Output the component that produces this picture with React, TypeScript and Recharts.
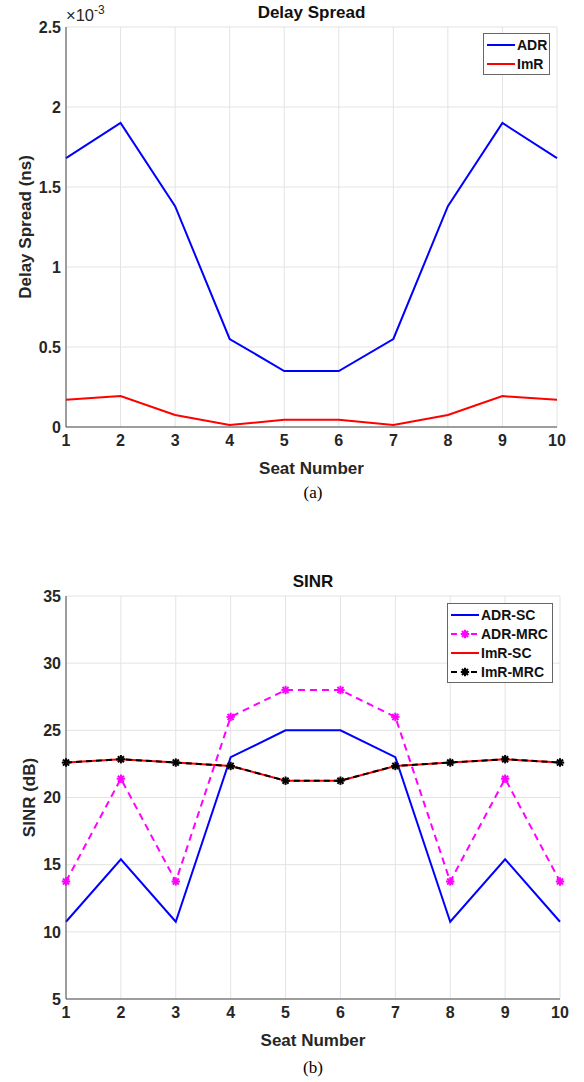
import { CartesianGrid, Line, LineChart, XAxis, YAxis } from 'recharts';

const seats = [1, 2, 3, 4, 5, 6, 7, 8, 9, 10];

// delay spread in ns
const adrDelay = [1.68e-3, 1.9e-3, 1.38e-3, 0.55e-3, 0.35e-3, 0.35e-3, 0.55e-3, 1.38e-3, 1.9e-3, 1.68e-3];
const imrDelay = [0.17e-3, 0.193e-3, 0.075e-3, 0.012e-3, 0.045e-3, 0.045e-3, 0.012e-3, 0.075e-3, 0.193e-3, 0.17e-3];
const delayTicks = [0, 0.5e-3, 1e-3, 1.5e-3, 2e-3, 2.5e-3];

// SINR in dB
const adrSc = [10.75, 15.4, 10.75, 23, 25, 25, 23, 10.75, 15.4, 10.75];
const adrMrc = [13.75, 21.4, 13.75, 26, 28, 28, 26, 13.75, 21.4, 13.75];
const imrSc = [22.6, 22.85, 22.6, 22.35, 21.25, 21.25, 22.35, 22.6, 22.85, 22.6];
const imrMrc = [22.6, 22.85, 22.6, 22.35, 21.25, 21.25, 22.35, 22.6, 22.85, 22.6];
const sinrTicks = [5, 10, 15, 20, 25, 30, 35];

const delayData = seats.map((seat, i) => ({ seat, adr: adrDelay[i], imr: imrDelay[i] }));
const sinrData = seats.map((seat, i) => ({
  seat,
  adrSc: adrSc[i],
  adrMrc: adrMrc[i],
  imrSc: imrSc[i],
  imrMrc: imrMrc[i],
}));

const FONT = '"Liberation Sans", Arial, sans-serif';
const SERIF = '"Liberation Serif", "Times New Roman", serif';
const INK = '#262626';
const FRAME = '#4a4a4a';
const tickStyle = { fontSize: 16, fontWeight: 700, fill: INK, fontFamily: FONT };

const asterisk = (color: string) => (props: any) => {
  const { cx, cy, index } = props;
  if (cx == null || cy == null) return <g key={index} />;
  const r = 4.2;
  const d = r * 0.72;
  return (
    <g key={index} stroke={color} strokeWidth={2}>
      <line x1={cx - r} y1={cy} x2={cx + r} y2={cy} />
      <line x1={cx} y1={cy - r} x2={cx} y2={cy + r} />
      <line x1={cx - d} y1={cy - d} x2={cx + d} y2={cy + d} />
      <line x1={cx - d} y1={cy + d} x2={cx + d} y2={cy - d} />
    </g>
  );
};

const yLabel = (text: string, cxPos: number) => (props: any) => {
  const vb = props.viewBox || {};
  const cy = vb.y + vb.height / 2;
  return (
    <text
      x={cxPos}
      y={cy}
      transform={`rotate(-90 ${cxPos} ${cy})`}
      textAnchor="middle"
      dominantBaseline="central"
      style={{ fontSize: 17, fontWeight: 700, fill: INK, fontFamily: FONT }}
    >
      {text}
    </text>
  );
};

const xLabel = (text: string, dy: number) => (props: any) => {
  const vb = props.viewBox || {};
  return (
    <text
      x={vb.x + vb.width / 2}
      y={vb.y + dy}
      textAnchor="middle"
      dominantBaseline="central"
      style={{ fontSize: 17, fontWeight: 700, fill: INK, fontFamily: FONT }}
    >
      {text}
    </text>
  );
};

function LegendBox({
  items,
  left,
  top,
  width,
}: {
  items: { name: string; color: string; dash?: string; marker?: boolean }[];
  left: number;
  top: number;
  width: number;
}) {
  return (
    <div
      style={{
        position: 'absolute',
        left,
        top,
        width,
        boxSizing: 'border-box',
        background: '#fff',
        border: '1px solid #666',
        padding: '1px 0',
        fontFamily: FONT,
        fontWeight: 700,
        fontSize: 14,
        color: '#111',
        whiteSpace: 'nowrap',
      }}
    >
      {items.map((it) => (
        <div key={it.name} style={{ display: 'flex', alignItems: 'center', height: 19 }}>
          <svg width={31} height={12} style={{ marginLeft: 2, flex: 'none' }}>
            <line x1={1} y1={6} x2={29} y2={6} stroke={it.color} strokeWidth={2} strokeDasharray={it.dash} />
            {it.marker && asterisk(it.color)({ cx: 15, cy: 6, index: 0 })}
          </svg>
          <span>{it.name}</span>
        </div>
      ))}
    </div>
  );
}

export default function App() {
  return (
    <div style={{ position: 'absolute', left: 0, top: 0, width: 584, height: 1082, background: '#fff' }}>
      {/* (a) Delay spread */}
      <div style={{ position: 'absolute', left: 0, top: 0 }}>
        <LineChart width={584} height={483} data={delayData} margin={{ top: 27, right: 27, left: 0, bottom: 10 }}>
          <CartesianGrid stroke="#e3e3e3" />
          <XAxis
            dataKey="seat"
            type="number"
            domain={[1, 10]}
            ticks={seats}
            height={46}
            tick={tickStyle}
            tickLine={false}
            axisLine={{ stroke: FRAME }}
            label={xLabel('Seat Number', 41)}
          />
          <XAxis
            xAxisId="top"
            dataKey="seat"
            type="number"
            orientation="top"
            domain={[1, 10]}
            ticks={seats}
            height={0}
            mirror
            tick={false}
            tickSize={5}
            tickLine={{ stroke: FRAME }}
            axisLine={{ stroke: FRAME }}
          />
          <YAxis
            domain={[0, 2.5e-3]}
            ticks={delayTicks}
            width={66}
            tick={tickStyle}
            tickLine={false}
            tickSize={3}
            tickMargin={2}
            axisLine={{ stroke: FRAME }}
            tickFormatter={(v: number) => String(Math.round(v * 10000) / 10)}
            label={yLabel('Delay Spread (ns)', 25)}
          />
          <YAxis
            yAxisId="right"
            orientation="right"
            domain={[0, 2.5e-3]}
            ticks={delayTicks}
            width={0}
            mirror
            tick={false}
            tickSize={5}
            tickLine={{ stroke: FRAME }}
            axisLine={{ stroke: FRAME }}
          />
          <Line dataKey="adr" stroke="#0000ff" strokeWidth={2} dot={false} isAnimationActive={false} />
          <Line dataKey="imr" stroke="#ff0000" strokeWidth={2} dot={false} isAnimationActive={false} />
        </LineChart>
      </div>
      <div
        style={{
          position: 'absolute',
          left: 66,
          width: 491,
          top: 2,
          textAlign: 'center',
          fontFamily: FONT,
          fontWeight: 700,
          fontSize: 17,
          lineHeight: '22px',
          color: '#111',
        }}
      >
        Delay Spread
      </div>
      <div style={{ position: 'absolute', left: 66, top: 6, fontFamily: FONT, fontSize: 16.5, color: INK, lineHeight: '18px' }}>
        ×10<sup style={{ fontSize: 12, verticalAlign: 7, lineHeight: 0 }}>-3</sup>
      </div>
      <LegendBox
        left={483}
        top={33}
        width={67}
        items={[
          { name: 'ADR', color: '#0000ff' },
          { name: 'ImR', color: '#ff0000' },
        ]}
      />
      <div
        style={{
          position: 'absolute',
          left: 213,
          width: 200,
          top: 482,
          textAlign: 'center',
          fontFamily: SERIF,
          fontSize: 17,
          lineHeight: '22px',
        }}
      >
        (a)
      </div>

      {/* (b) SINR */}
      <div style={{ position: 'absolute', left: 0, top: 540 }}>
        <LineChart width={584} height={515} data={sinrData} margin={{ top: 56, right: 24, left: 0, bottom: 10 }}>
          <CartesianGrid stroke="#e3e3e3" />
          <XAxis
            dataKey="seat"
            type="number"
            domain={[1, 10]}
            ticks={seats}
            height={46}
            tick={tickStyle}
            tickLine={false}
            axisLine={{ stroke: FRAME }}
            label={xLabel('Seat Number', 41)}
          />
          <XAxis
            xAxisId="top"
            dataKey="seat"
            type="number"
            orientation="top"
            domain={[1, 10]}
            ticks={seats}
            height={0}
            mirror
            tick={false}
            tickSize={5}
            tickLine={{ stroke: FRAME }}
            axisLine={{ stroke: FRAME }}
          />
          <YAxis
            domain={[5, 35]}
            ticks={sinrTicks}
            width={66}
            tick={tickStyle}
            tickLine={false}
            tickSize={3}
            tickMargin={2}
            axisLine={{ stroke: FRAME }}
            label={yLabel('SINR (dB)', 29)}
          />
          <YAxis
            yAxisId="right"
            orientation="right"
            domain={[5, 35]}
            ticks={sinrTicks}
            width={0}
            mirror
            tick={false}
            tickSize={5}
            tickLine={{ stroke: FRAME }}
            axisLine={{ stroke: FRAME }}
          />
          <Line dataKey="adrSc" stroke="#0000ff" strokeWidth={2} dot={false} isAnimationActive={false} />
          <Line
            dataKey="adrMrc"
            stroke="#ff00ff"
            strokeWidth={2}
            strokeDasharray="7 5"
            dot={asterisk('#ff00ff')}
            isAnimationActive={false}
          />
          <Line dataKey="imrSc" stroke="#ff0000" strokeWidth={2} dot={false} isAnimationActive={false} />
          <Line
            dataKey="imrMrc"
            stroke="#000000"
            strokeWidth={2}
            strokeDasharray="6 4"
            dot={asterisk('#000000')}
            isAnimationActive={false}
          />
        </LineChart>
      </div>
      <div
        style={{
          position: 'absolute',
          left: 66,
          width: 494,
          top: 571,
          textAlign: 'center',
          fontFamily: FONT,
          fontWeight: 700,
          fontSize: 17,
          lineHeight: '22px',
          color: '#111',
        }}
      >
        SINR
      </div>
      <LegendBox
        left={447}
        top={603}
        width={106}
        items={[
          { name: 'ADR-SC', color: '#0000ff' },
          { name: 'ADR-MRC', color: '#ff00ff', dash: '6 4', marker: true },
          { name: 'ImR-SC', color: '#ff0000' },
          { name: 'ImR-MRC', color: '#000000', dash: '6 4', marker: true },
        ]}
      />
      <div
        style={{
          position: 'absolute',
          left: 213,
          width: 200,
          top: 1057,
          textAlign: 'center',
          fontFamily: SERIF,
          fontSize: 17,
          lineHeight: '22px',
        }}
      >
        (b)
      </div>
    </div>
  );
}
